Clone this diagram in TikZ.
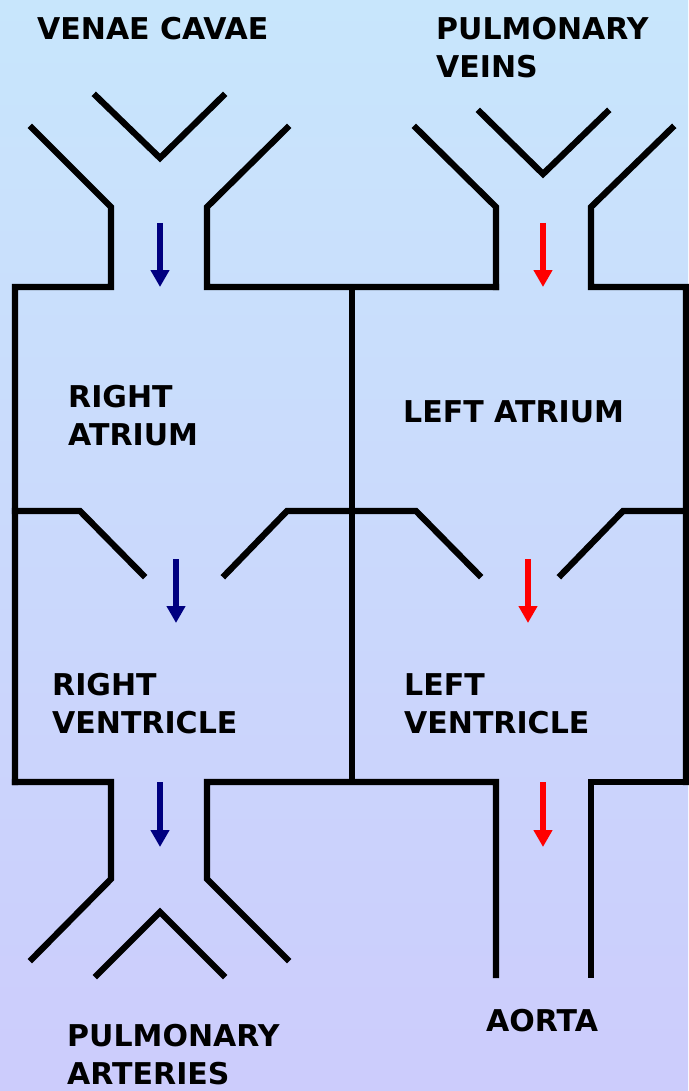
\documentclass[tikz,border=0pt]{standalone}
\usepackage{fontspec}
\setmainfont{DejaVu Sans}
\usetikzlibrary{arrows.meta}
\definecolor{skytop}{RGB}{200,230,252}
\definecolor{skybot}{RGB}{204,204,252}
\definecolor{venous}{RGB}{0,0,128}
\definecolor{arterial}{RGB}{255,0,0}
\tikzset{
  wall/.style={line width=6.3pt, line cap=rect, line join=miter},
  flow/.style={line width=6.5pt, -{Triangle[width=18pt,length=17pt]}},
  label/.style={inner sep=0pt, anchor=north west, align=left,
    font=\bfseries\fontsize{30}{38}\selectfont},
}
\begin{document}
\begin{tikzpicture}[x=1pt,y=-1pt]
% background
\shade[top color=skytop, bottom color=skybot] (0,0) rectangle (688,1091);
\useasboundingbox (0,0) rectangle (688,1091);

% ---- veins entering the atria ----
% venae cavae
\draw[wall] (32,128) -- (111,207) -- (111,287) -- (15,287) -- (15,782);
\draw[wall] (96,96) -- (160,158) -- (223,96);
\draw[wall] (287,128) -- (207,207) -- (207,287) -- (496,287);
% pulmonary veins
\draw[wall] (416,128) -- (496,207) -- (496,287);
\draw[wall] (480,112) -- (543,174) -- (607,112);
\draw[wall] (672,128) -- (591,207) -- (591,287) -- (686,287) -- (686,782);

% septum
\draw[wall] (352,287) -- (352,782);

% ---- valves between atria and ventricles ----
\draw[wall] (15,511) -- (80,511) -- (143,575);
\draw[wall] (225,575) -- (287,511) -- (416,511) -- (479,575);
\draw[wall] (561,575) -- (623,511) -- (686,511);

% ---- outflow ----
% pulmonary arteries
\draw[wall] (15,782) -- (111,782) -- (111,879) -- (32,959);
\draw[wall] (97,975) -- (160,912) -- (223,975);
\draw[wall] (287,959) -- (207,879) -- (207,782) -- (496,782) -- (496,975);
% aorta
\draw[wall] (591,975) -- (591,782) -- (686,782);

% ---- flow arrows ----
\coordinate (vcA) at (160,223); \coordinate (vcB) at (160,287);
\coordinate (pvA) at (543,223); \coordinate (pvB) at (543,287);
\coordinate (raA) at (176,559); \coordinate (raB) at (176,623);
\coordinate (laA) at (528,559); \coordinate (laB) at (528,623);
\coordinate (rvA) at (160,782); \coordinate (rvB) at (160,847);
\coordinate (lvA) at (543,782); \coordinate (lvB) at (543,847);
\draw[flow, venous] (vcA) -- (vcB);
\draw[flow, venous] (raA) -- (raB);
\draw[flow, venous] (rvA) -- (rvB);
\draw[flow, arterial] (pvA) -- (pvB);
\draw[flow, arterial] (laA) -- (laB);
\draw[flow, arterial] (lvA) -- (lvB);

% ---- labels ----
\node[label] (venae) at (37,17) {VENAE CAVAE};
\node[label] (pveins) at (436,17) {PULMONARY\\VEINS};
\node[label] (ratrium) at (68,385) {RIGHT\\ATRIUM};
\node[label] (latrium) at (403,400) {LEFT ATRIUM};
\node[label] (rvent) at (52,673) {RIGHT\\VENTRICLE};
\node[label] (lvent) at (404,673) {LEFT\\VENTRICLE};
\node[label] (parter) at (67,1024) {PULMONARY\\ARTERIES};
\node[label] (aorta) at (486,1009) {AORTA};
\end{tikzpicture}
\end{document}
